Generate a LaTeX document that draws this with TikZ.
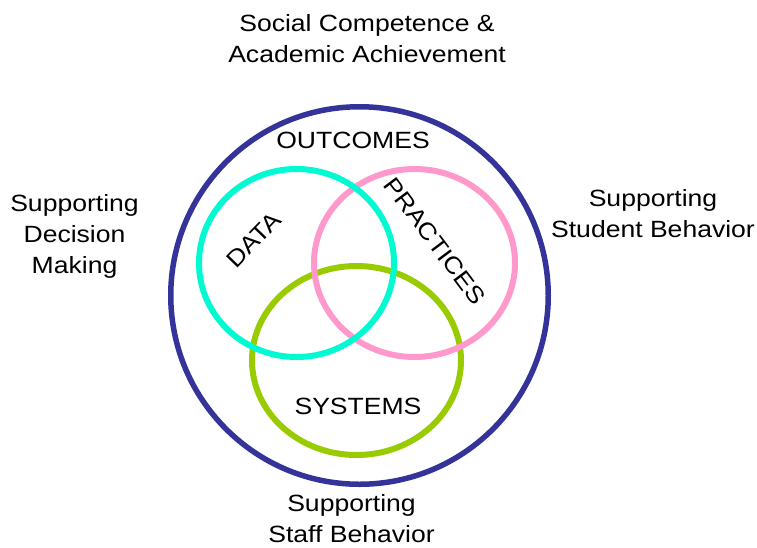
\documentclass[tikz,border=0pt]{standalone}
\usepackage{fontspec}
\setmainfont{Liberation Sans}
\newfontfamily\lblfont[FakeStretch=1.13]{Liberation Sans}
\begin{document}
\begin{tikzpicture}[x=1pt,y=-1pt,
  lbl/.style={font=\lblfont\fontsize{23.5}{31}\selectfont, align=center, inner sep=0pt, text=black},
  outer/.style={draw=ringblue, line width=5.5pt},
  ring/.style={line width=6pt}]
\definecolor{ringblue}{RGB}{51,51,153}
\definecolor{ringcyan}{RGB}{0,250,210}
\definecolor{ringpink}{RGB}{255,153,204}
\definecolor{ringgreen}{RGB}{153,204,0}
\useasboundingbox (0,0) rectangle (757,547);
\fill[white] (0,0) rectangle (757,547);
% circles
\draw[outer] (359.5,295.5) circle [radius=188.75];
\draw[ring, draw=ringgreen] (356.5,360.5) ellipse [x radius=104.5, y radius=94.5];
\draw[ring, draw=ringpink] (414.5,263) ellipse [x radius=100.5, y radius=94];
\draw[ring, draw=ringcyan] (296.5,263) ellipse [x radius=97.5, y radius=94];
% labels
\node[lbl] (top) at (367,38.5) {Social Competence \&\\Academic Achievement};
\node[lbl] (left) at (74.5,236.5) {Supporting\\Decision\\Making};
\node[lbl] (right) at (653,214) {Supporting\\Student Behavior};
\node[lbl] (bottom) at (351.5,519) {Supporting\\Staff Behavior};
\node[lbl] (outcomes) at (353,140) {OUTCOMES};
\node[lbl] (systems) at (358,406) {SYSTEMS};
\node[lbl, rotate=46] (data) at (254,240) {DATA};
\node[lbl, rotate=-53] (practices) at (435,241) {PRACTICES};
\end{tikzpicture}
\end{document}
